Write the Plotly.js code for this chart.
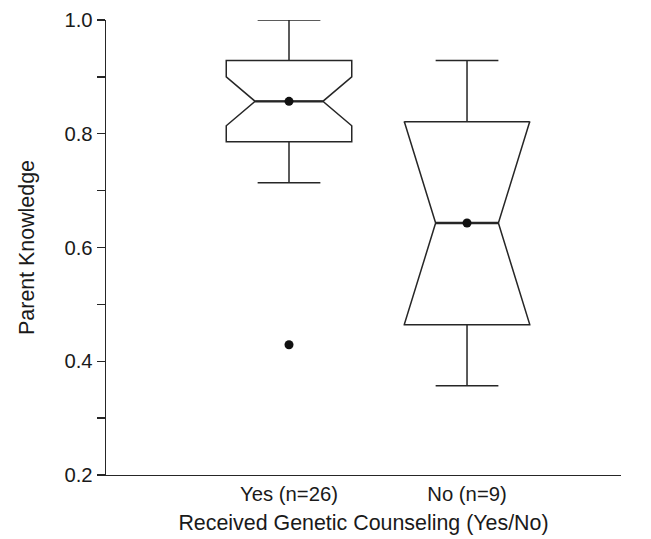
<!DOCTYPE html>
<html>
<head>
<meta charset="utf-8">
<script src="https://cdn.plot.ly/plotly-3.0.1.min.js"></script>
<style>
  html, body { margin: 0; padding: 0; background: #ffffff; }
  #chart { width: 651px; height: 539px; }
</style>
</head>
<body>
<div id="chart"></div>
<script>
// ---- Data ----
const categories   = ['Yes (n=26)', 'No (n=9)'];
const positions    = [0, 1];
const lowerWhisker = [0.714, 0.357];
const q1Vals       = [0.786, 0.464];
const medianVals   = [0.857, 0.643];
const q3Vals       = [0.929, 0.821];
const upperWhisker = [1.000, 0.929];
const notchSpans   = [0.043, 0.1785];
const outlierGroup = [0];
const outlierVals  = [0.429];

// ---- Styles ----
const ink = '#262626';
const boxWidth = 0.705;
const notchWidths = [0.23, 0.25];
const fontFamily = '"Liberation Sans", Arial, Helvetica, sans-serif';

const traces = [];
categories.forEach((cat, i) => {
  traces.push({
    type: 'box',
    name: cat,
    x: [positions[i]],
    q1: [q1Vals[i]],
    median: [medianVals[i]],
    q3: [q3Vals[i]],
    lowerfence: [lowerWhisker[i]],
    upperfence: [upperWhisker[i]],
    notched: true,
    notchspan: [notchSpans[i]],
    notchwidth: notchWidths[i],
    width: boxWidth,
    whiskerwidth: 0.5,
    boxpoints: false,
    line: { color: ink, width: 1.5 },
    fillcolor: 'rgba(255,255,255,0)',
    hoverinfo: 'skip',
    showlegend: false
  });
  // bold median line across the notch waist
  const half = boxWidth / 2 * (1 - 2 * notchWidths[i]);
  traces.push({
    type: 'scatter', mode: 'lines',
    x: [positions[i] - half, positions[i] + half],
    y: [medianVals[i], medianVals[i]],
    line: { color: ink, width: 2.4 },
    hoverinfo: 'skip', showlegend: false
  });
});

// median dots
traces.push({
  type: 'scatter', mode: 'markers',
  x: positions, y: medianVals,
  marker: { color: '#111111', size: 9 },
  hoverinfo: 'skip', showlegend: false
});
// outliers
traces.push({
  type: 'scatter', mode: 'markers',
  x: outlierGroup.map(g => positions[g]), y: outlierVals,
  marker: { color: '#111111', size: 9 },
  hoverinfo: 'skip', showlegend: false
});

const layout = {
  width: 651, height: 539,
  margin: { l: 106, r: 30, t: 20, b: 64, pad: 0 },
  paper_bgcolor: '#ffffff', plot_bgcolor: '#ffffff',
  font: { family: fontFamily, color: '#1a1a1a', size: 20 },
  showlegend: false,
  xaxis: {
    range: [-1.028, 1.865],
    tickvals: positions, ticktext: categories,
    ticks: '', ticklen: 0,
    showline: true, linecolor: ink, linewidth: 1.3,
    showgrid: false, zeroline: false,
    tickfont: { size: 20.3, family: fontFamily, color: '#1a1a1a' },
    title: { text: 'Received Genetic Counseling (Yes/No)', font: { size: 21.4, family: fontFamily, color: '#1a1a1a' }, standoff: 11 }
  },
  yaxis: {
    range: [0.2, 1.0],
    tickvals: [0.2, 0.4, 0.6, 0.8, 1.0],
    tickformat: '.1f',
    ticks: 'outside', ticklen: 8, tickwidth: 1.3, tickcolor: ink,
    minor: { tickvals: [0.3, 0.5, 0.7, 0.9], ticks: 'outside', ticklen: 8, tickwidth: 1.3, tickcolor: ink },
    showline: true, linecolor: ink, linewidth: 1.3,
    showgrid: false, zeroline: false,
    tickfont: { size: 20.3, family: fontFamily, color: '#1a1a1a' },
    title: { text: 'Parent Knowledge', font: { size: 21.4, family: fontFamily, color: '#1a1a1a' }, standoff: 24 }
  }
};

Plotly.newPlot('chart', traces, layout, { displayModeBar: false, staticPlot: true });
</script>
</body>
</html>
